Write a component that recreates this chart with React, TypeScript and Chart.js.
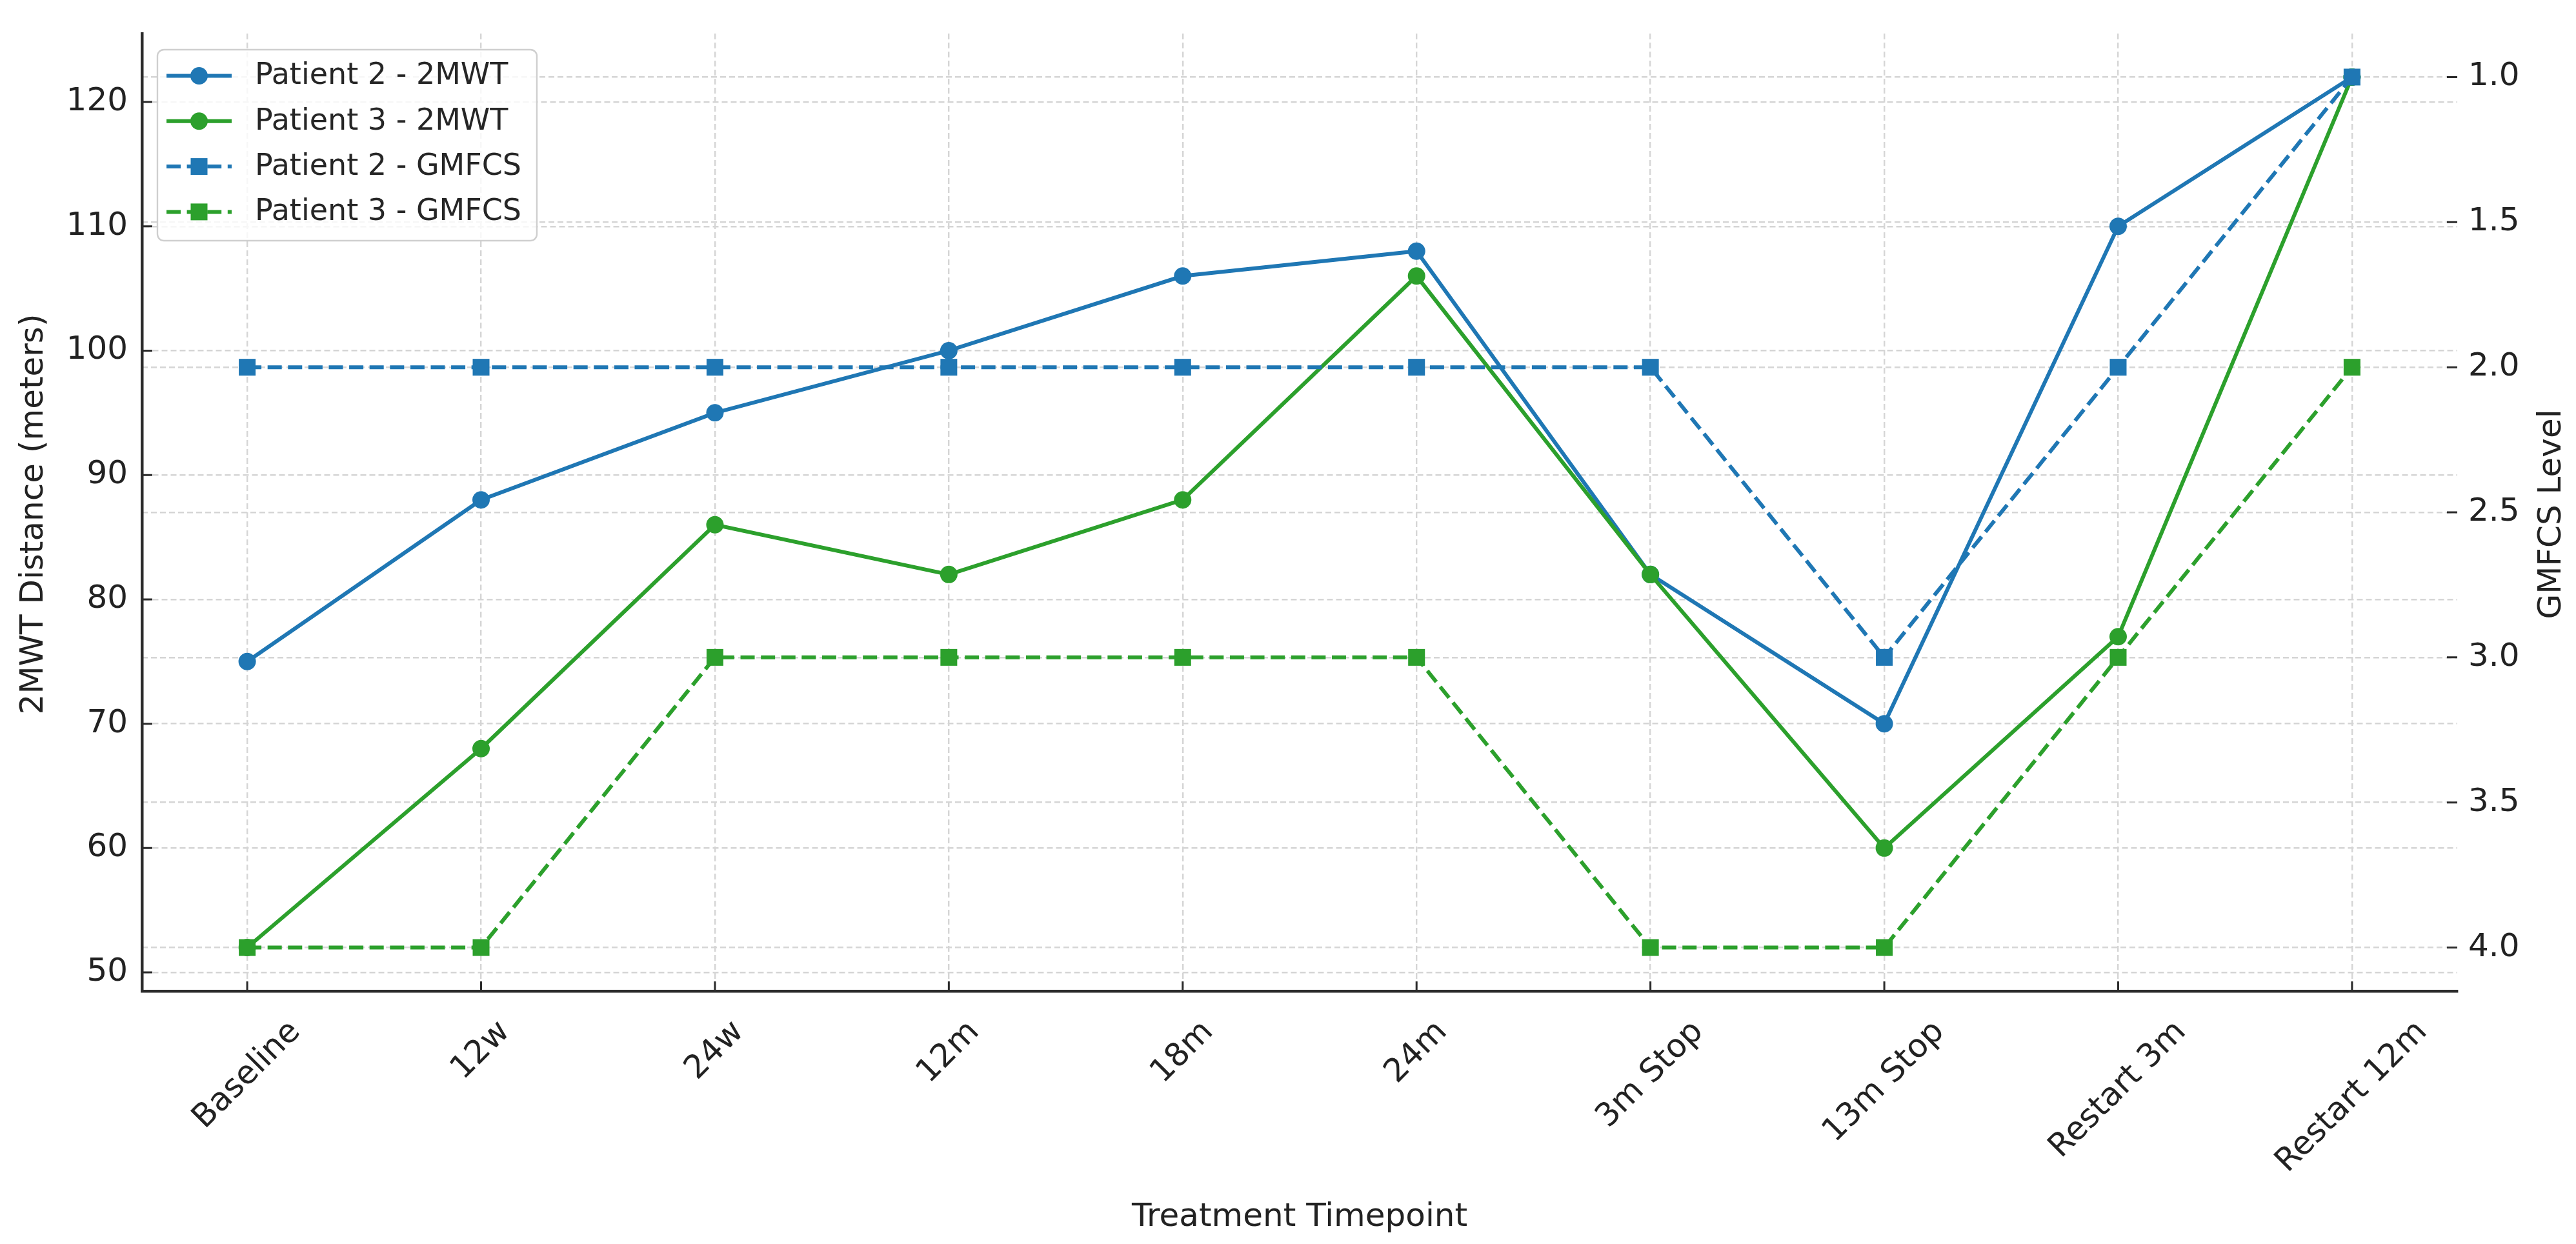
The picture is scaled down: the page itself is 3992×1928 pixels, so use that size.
import React, { useEffect, useRef } from "react";
import { Chart, registerables } from "chart.js";

Chart.register(...registerables);

// ---- data ----
const categories = ["Baseline", "12w", "24w", "12m", "18m", "24m", "3m Stop", "13m Stop", "Restart 3m", "Restart 12m"];
const p2Walk = [75, 88, 95, 100, 106, 108, 82, 70, 110, 122];
const p3Walk = [52, 68, 86, 82, 88, 106, 82, 60, 77, 122];
const p2Gmfcs = [2, 2, 2, 2, 2, 2, 2, 3, 2, 1];
const p3Gmfcs = [4, 4, 3, 3, 3, 3, 4, 4, 3, 2];
const walkTicks = [50, 60, 70, 80, 90, 100, 110, 120];
const gmfcsTicks = [1.0, 1.5, 2.0, 2.5, 3.0, 3.5, 4.0];
const seriesLabels = ["Patient 2 - 2MWT", "Patient 3 - 2MWT", "Patient 2 - GMFCS", "Patient 3 - GMFCS"];
const xTitle = "Treatment Timepoint";
const yTitle = "2MWT Distance (meters)";
const y1Title = "GMFCS Level";

// ---- style ----
const W = 3992;
const H = 1928;
const FONT = '"DejaVu Sans", "Liberation Sans", sans-serif';
const BLUE = "#1f77b4";
const GREEN = "#2ca02c";
const TEXT = "#222222";
const AXIS = "#2b2b2b";
const GRID = "#d5d5d5";
const GRID_DASH = [9, 5];
const LINE_W = 6;
const DASH = [22, 9.6];
const CIRCLE_R = 13.5;
const RECT_R = 18.4;

const toPts = (arr: number[]) => arr.map((v, i) => ({ x: i, y: v }));

const legendDefs = [
  { color: BLUE, dashed: false, marker: "circle" },
  { color: GREEN, dashed: false, marker: "circle" },
  { color: BLUE, dashed: true, marker: "rect" },
  { color: GREEN, dashed: true, marker: "rect" },
];

const decorPlugin = {
  id: "decor",
  afterDraw(chart: any) {
    const ctx: CanvasRenderingContext2D = chart.ctx;
    const area = chart.chartArea;
    const xs = chart.scales.x;
    const ys = chart.scales.y;
    const y1s = chart.scales.y1;
    ctx.save();

    // inward tick marks
    ctx.strokeStyle = AXIS;
    ctx.lineWidth = 3;
    ctx.setLineDash([]);
    ctx.beginPath();
    walkTicks.forEach((v) => {
      const p = ys.getPixelForValue(v);
      ctx.moveTo(area.left, p);
      ctx.lineTo(area.left + 16, p);
    });
    gmfcsTicks.forEach((v) => {
      const p = y1s.getPixelForValue(v);
      ctx.moveTo(area.right, p);
      ctx.lineTo(area.right - 16, p);
    });
    categories.forEach((_, i) => {
      const p = xs.getPixelForValue(i);
      ctx.moveTo(p, area.bottom);
      ctx.lineTo(p, area.bottom - 15);
    });
    ctx.stroke();

    // rotated x tick labels (matplotlib rotation=45, ha=center)
    const fs = 50;
    ctx.font = `${fs}px ${FONT}`;
    ctx.fillStyle = TEXT;
    categories.forEach((lab, i) => {
      const w = ctx.measureText(lab).width;
      const h = fs * 1.164;
      const box = (w + h) * Math.SQRT1_2;
      const cx = xs.getPixelForValue(i);
      const cy = area.bottom + 35 + box / 2;
      ctx.save();
      ctx.translate(cx, cy);
      ctx.rotate(-Math.PI / 4);
      ctx.textAlign = "center";
      ctx.textBaseline = "middle";
      ctx.fillText(lab, 0, 0);
      ctx.restore();
    });

    // axis titles
    ctx.textAlign = "center";
    ctx.textBaseline = "alphabetic";
    ctx.fillText(xTitle, (area.left + area.right) / 2, 1900);
    const midY = (area.top + area.bottom) / 2 + 3;
    ctx.save();
    ctx.translate(66, midY);
    ctx.rotate(-Math.PI / 2);
    ctx.fillText(yTitle, 0, 0);
    ctx.restore();
    ctx.save();
    ctx.translate(3968, midY);
    ctx.rotate(-Math.PI / 2);
    ctx.fillText(y1Title, 0, 0);
    ctx.restore();

    // legend
    const bx = 244, by = 77, bw = 588, bh = 296;
    ctx.beginPath();
    (ctx as any).roundRect(bx, by, bw, bh, 10);
    ctx.fillStyle = "rgba(255,255,255,0.8)";
    ctx.fill();
    ctx.strokeStyle = "#cfcfcf";
    ctx.lineWidth = 2.4;
    ctx.stroke();

    ctx.font = `46px ${FONT}`;
    ctx.textAlign = "left";
    ctx.textBaseline = "middle";
    legendDefs.forEach((d, i) => {
      const ry = 117.5 + i * 70.3;
      ctx.strokeStyle = d.color;
      ctx.fillStyle = d.color;
      ctx.lineWidth = LINE_W;
      ctx.setLineDash(d.dashed ? DASH : []);
      ctx.beginPath();
      ctx.moveTo(258, ry);
      ctx.lineTo(359, ry);
      ctx.stroke();
      ctx.setLineDash([]);
      const mx = 308.5;
      ctx.beginPath();
      if (d.marker === "circle") {
        ctx.arc(mx, ry, CIRCLE_R, 0, Math.PI * 2);
      } else {
        const s = RECT_R * Math.SQRT1_2;
        ctx.rect(mx - s, ry - s, 2 * s, 2 * s);
      }
      ctx.fill();
      ctx.fillStyle = "#262626";
      ctx.fillText(seriesLabels[i], 395, ry + 1);
    });

    ctx.restore();
  },
};

export default function App() {
  const ref = useRef<HTMLCanvasElement | null>(null);

  useEffect(() => {
    if (!ref.current) return;
    Chart.defaults.font.family = FONT;
    const mk = (label: string, data: number[], color: string, axis: string, dashed: boolean, order: number) => ({
      label,
      data: toPts(data),
      yAxisID: axis,
      borderColor: color,
      backgroundColor: color,
      borderWidth: LINE_W,
      borderDash: dashed ? DASH : [],
      pointStyle: dashed ? "rect" : "circle",
      pointRadius: dashed ? RECT_R : CIRCLE_R,
      pointHoverRadius: dashed ? RECT_R : CIRCLE_R,
      pointBorderWidth: 0,
      pointBackgroundColor: color,
      fill: false,
      tension: 0,
      order,
    });

    const chart = new Chart(ref.current, {
      type: "line",
      data: {
        datasets: [
          mk(seriesLabels[0], p2Walk, BLUE, "y", false, 4),
          mk(seriesLabels[1], p3Walk, GREEN, "y", false, 3),
          mk(seriesLabels[2], p2Gmfcs, BLUE, "y1", true, 2),
          mk(seriesLabels[3], p3Gmfcs, GREEN, "y1", true, 1),
        ] as any,
      },
      options: {
        animation: false,
        responsive: false,
        devicePixelRatio: 1,
        layout: { padding: { top: 51, left: 0, right: 0, bottom: 0 } },
        plugins: {
          legend: { display: false },
          tooltip: { enabled: false },
          title: { display: false },
        },
        events: [],
        scales: {
          x: {
            type: "linear",
            position: "bottom",
            min: -0.45,
            max: 9.45,
            afterBuildTicks: (s: any) => {
              s.ticks = categories.map((_, i) => ({ value: i }));
            },
            afterFit: (s: any) => {
              s.height = 392;
            },
            ticks: { display: false, autoSkip: false },
            grid: { color: GRID, lineWidth: 2.4, drawTicks: false },
            border: { display: true, color: AXIS, width: 4.5, dash: GRID_DASH },
          },
          y: {
            type: "linear",
            position: "left",
            min: 48.5,
            max: 125.5,
            afterBuildTicks: (s: any) => {
              s.ticks = walkTicks.map((v) => ({ value: v }));
            },
            afterFit: (s: any) => {
              s.width = 220;
            },
            ticks: {
              autoSkip: false,
              padding: 22,
              color: TEXT,
              font: { family: FONT, size: 50 },
              callback: (v: any) => String(v),
            },
            grid: { color: GRID, lineWidth: 2.4, drawTicks: false },
            border: { display: true, color: AXIS, width: 4.5, dash: GRID_DASH },
          },
          y1: {
            type: "linear",
            position: "right",
            reverse: true,
            min: 0.85,
            max: 4.15,
            afterBuildTicks: (s: any) => {
              s.ticks = gmfcsTicks.map((v) => ({ value: v }));
            },
            afterFit: (s: any) => {
              s.width = 184;
            },
            ticks: {
              autoSkip: false,
              padding: 17,
              color: TEXT,
              font: { family: FONT, size: 50 },
              callback: (v: any) => Number(v).toFixed(1),
            },
            grid: { color: GRID, lineWidth: 2.4, drawTicks: false },
            border: { display: false, dash: GRID_DASH },
          },
        },
      } as any,
      plugins: [decorPlugin as any],
    });
    return () => chart.destroy();
  }, []);

  return (
    <div style={{ position: "fixed", left: 0, top: 0, width: W, height: H, background: "#ffffff" }}>
      <canvas ref={ref} width={W} height={H} style={{ display: "block", width: W, height: H }} />
    </div>
  );
}
